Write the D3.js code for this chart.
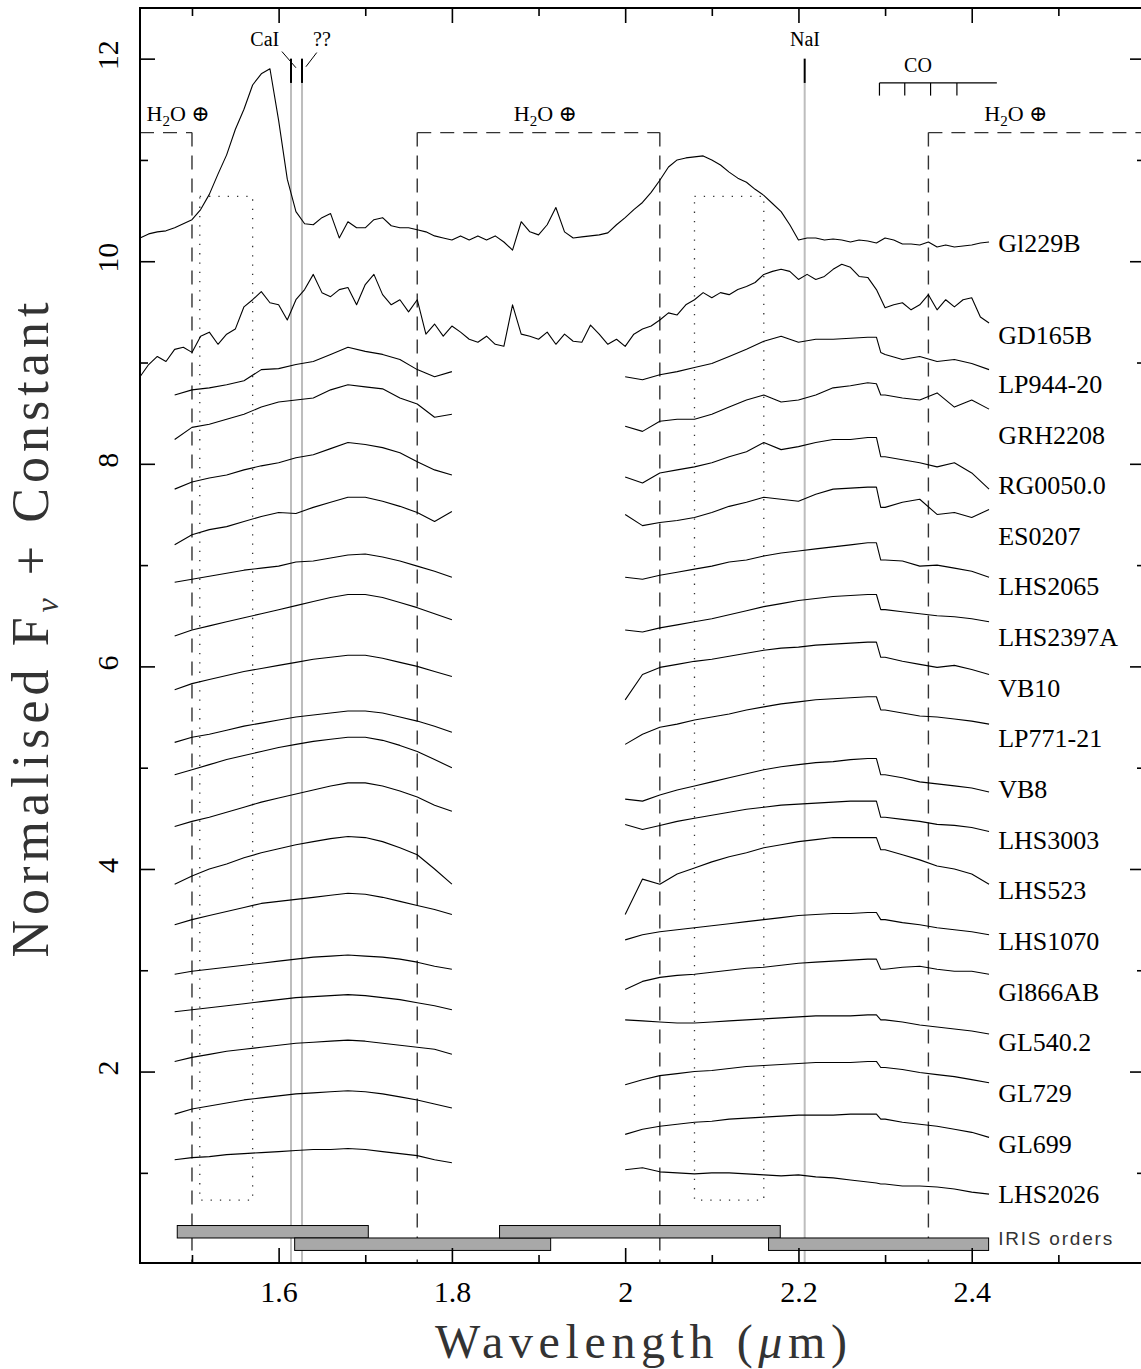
<!DOCTYPE html>
<html>
<head>
<meta charset="utf-8">
<script src="https://cdn.jsdelivr.net/npm/d3@7"></script>
<style>
  body { margin: 0; background: #fff; }
  svg { display: block; }
</style>
</head>
<body>
<div id="chart"></div>
<script>
// ---- data ----
const starNames = ['Gl229B', 'GD165B', 'LP944-20', 'GRH2208', 'RG0050.0', 'ES0207', 'LHS2065',
    'LHS2397A', 'VB10', 'LP771-21', 'VB8', 'LHS3003', 'LHS523', 'LHS1070', 'Gl866AB',
    'GL540.2', 'GL729', 'GL699', 'LHS2026'];
const labelLevels = [10.09, 9.18, 8.70, 8.20, 7.70, 7.20, 6.70, 6.20, 5.70, 5.20, 4.70,
    4.20, 3.70, 3.20, 2.70, 2.20, 1.70, 1.20, 0.70];

// continuous spectra (Gl229B, GD165B)
const fullWave = [1.44, 1.45, 1.46, 1.47, 1.48, 1.49, 1.50, 1.51, 1.52, 1.53, 1.54, 1.55, 1.56,
    1.57, 1.58, 1.59, 1.60, 1.61, 1.62, 1.63, 1.64, 1.65, 1.66, 1.67, 1.68, 1.69, 1.70, 1.71,
    1.72, 1.73, 1.74, 1.75, 1.76, 1.77, 1.78, 1.79, 1.80, 1.81, 1.82, 1.83, 1.84, 1.85, 1.86,
    1.87, 1.88, 1.89, 1.90, 1.91, 1.92, 1.93, 1.94, 1.95, 1.96, 1.97, 1.98, 1.99, 2.00, 2.01,
    2.02, 2.03, 2.04, 2.05, 2.06, 2.07, 2.08, 2.09, 2.10, 2.11, 2.12, 2.13, 2.14, 2.15, 2.16,
    2.17, 2.18, 2.19, 2.20, 2.21, 2.22, 2.23, 2.24, 2.25, 2.26, 2.27, 2.28, 2.29, 2.30, 2.31,
    2.32, 2.33, 2.34, 2.35, 2.36, 2.37, 2.38, 2.39, 2.40, 2.41, 2.42];
const gl229bFlux = [10.23, 10.27, 10.29, 10.30, 10.33, 10.37, 10.41, 10.51, 10.66, 10.86, 11.05,
    11.30, 11.50, 11.74, 11.85, 11.90, 11.39, 10.81, 10.49, 10.37, 10.36, 10.43, 10.47, 10.23,
    10.39, 10.33, 10.33, 10.41, 10.43, 10.35, 10.33, 10.33, 10.31, 10.29, 10.25, 10.23, 10.21,
    10.25, 10.21, 10.25, 10.21, 10.25, 10.19, 10.11, 10.39, 10.29, 10.26, 10.36, 10.53, 10.29,
    10.23, 10.24, 10.25, 10.26, 10.28, 10.36, 10.43, 10.51, 10.58, 10.68, 10.80, 10.93, 11.00,
    11.02, 11.03, 11.04, 11.00, 10.95, 10.88, 10.82, 10.78, 10.71, 10.65, 10.57, 10.49, 10.36,
    10.21, 10.23, 10.23, 10.21, 10.22, 10.21, 10.19, 10.21, 10.20, 10.18, 10.23, 10.21, 10.17,
    10.17, 10.16, 10.19, 10.14, 10.16, 10.14, 10.15, 10.16, 10.18, 10.19];
const gd165bFlux = [8.86, 8.98, 9.06, 9.01, 9.13, 9.15, 9.10, 9.26, 9.30, 9.18, 9.28, 9.33, 9.55,
    9.62, 9.70, 9.59, 9.57, 9.42, 9.62, 9.72, 9.87, 9.69, 9.65, 9.72, 9.74, 9.57, 9.77, 9.87,
    9.67, 9.57, 9.62, 9.50, 9.62, 9.28, 9.38, 9.26, 9.36, 9.30, 9.23, 9.20, 9.26, 9.18, 9.16,
    9.57, 9.28, 9.26, 9.23, 9.30, 9.18, 9.28, 9.21, 9.20, 9.37, 9.28, 9.18, 9.23, 9.16, 9.28,
    9.33, 9.36, 9.42, 9.49, 9.47, 9.57, 9.62, 9.69, 9.64, 9.69, 9.67, 9.72, 9.75, 9.79, 9.87,
    9.90, 9.92, 9.90, 9.82, 9.87, 9.82, 9.85, 9.92, 9.97, 9.94, 9.85, 9.84, 9.72, 9.54, 9.57,
    9.59, 9.52, 9.57, 9.67, 9.52, 9.62, 9.55, 9.62, 9.64, 9.45, 9.39];

// H and K windows for the other 17 objects (same order as starNames from LP944-20)
const hWave = [1.48, 1.50, 1.52, 1.54, 1.56, 1.58, 1.60, 1.62, 1.64, 1.66, 1.68, 1.70, 1.72,
    1.74, 1.76, 1.78, 1.80];
// extra samples either side of the first CO band head
const kWave = [2.00, 2.02, 2.04, 2.06, 2.08, 2.10, 2.12, 2.14, 2.16, 2.18, 2.20, 2.22, 2.24,
    2.26, 2.28, 2.29, 2.295, 2.30, 2.32, 2.34, 2.36, 2.38, 2.40, 2.42];
const hFlux = [
    [8.68, 8.73, 8.75, 8.78, 8.82, 8.93, 8.94, 8.98, 9.01, 9.08, 9.15, 9.11, 9.08, 9.03, 8.93, 8.86, 8.91],
    [8.24, 8.36, 8.39, 8.44, 8.49, 8.56, 8.61, 8.63, 8.65, 8.73, 8.78, 8.76, 8.74, 8.65, 8.59, 8.46, 8.49],
    [7.75, 7.82, 7.86, 7.89, 7.94, 7.98, 8.01, 8.06, 8.09, 8.15, 8.21, 8.19, 8.16, 8.11, 8.02, 7.94, 7.89],
    [7.20, 7.30, 7.35, 7.38, 7.43, 7.48, 7.52, 7.51, 7.57, 7.62, 7.67, 7.67, 7.63, 7.58, 7.52, 7.43, 7.53],
    [6.83, 6.86, 6.89, 6.92, 6.95, 6.97, 6.99, 7.03, 7.04, 7.07, 7.10, 7.11, 7.08, 7.04, 6.99, 6.94, 6.88],
    [6.30, 6.36, 6.40, 6.44, 6.48, 6.52, 6.56, 6.60, 6.64, 6.68, 6.71, 6.71, 6.68, 6.63, 6.58, 6.52, 6.46],
    [5.77, 5.83, 5.87, 5.91, 5.95, 5.98, 6.01, 6.04, 6.07, 6.09, 6.11, 6.11, 6.08, 6.04, 6.00, 5.95, 5.90],
    [5.25, 5.30, 5.33, 5.37, 5.41, 5.44, 5.47, 5.50, 5.52, 5.54, 5.56, 5.56, 5.54, 5.50, 5.46, 5.41, 5.35],
    [4.93, 4.98, 5.03, 5.08, 5.12, 5.16, 5.20, 5.23, 5.26, 5.28, 5.30, 5.30, 5.27, 5.22, 5.16, 5.08, 5.00],
    [4.42, 4.47, 4.51, 4.56, 4.61, 4.66, 4.70, 4.74, 4.78, 4.82, 4.85, 4.85, 4.82, 4.77, 4.71, 4.63, 4.57],
    [3.85, 3.93, 4.00, 4.05, 4.11, 4.16, 4.20, 4.24, 4.27, 4.30, 4.32, 4.31, 4.27, 4.21, 4.14, 4.00, 3.85],
    [3.45, 3.50, 3.54, 3.58, 3.62, 3.66, 3.68, 3.70, 3.72, 3.74, 3.76, 3.75, 3.72, 3.68, 3.64, 3.60, 3.55],
    [2.96, 2.99, 3.01, 3.03, 3.05, 3.07, 3.09, 3.11, 3.13, 3.14, 3.15, 3.14, 3.13, 3.11, 3.08, 3.04, 3.01],
    [2.59, 2.61, 2.63, 2.65, 2.67, 2.69, 2.71, 2.73, 2.74, 2.75, 2.76, 2.75, 2.73, 2.71, 2.68, 2.65, 2.61],
    [2.10, 2.14, 2.17, 2.20, 2.22, 2.24, 2.26, 2.28, 2.29, 2.30, 2.31, 2.30, 2.28, 2.26, 2.24, 2.22, 2.17],
    [1.58, 1.63, 1.66, 1.69, 1.72, 1.74, 1.76, 1.78, 1.79, 1.80, 1.81, 1.80, 1.78, 1.75, 1.72, 1.68, 1.64],
    [1.13, 1.15, 1.16, 1.18, 1.19, 1.20, 1.21, 1.22, 1.23, 1.23, 1.24, 1.23, 1.21, 1.19, 1.17, 1.13, 1.10]
];
const kFlux = [
    [8.86, 8.83, 8.88, 8.91, 8.95, 8.99, 9.06, 9.13, 9.21, 9.26, 9.20, 9.23, 9.23, 9.24, 9.25, 9.25, 9.10, 9.08, 9.03, 9.06, 9.01, 9.03, 8.99, 8.93],
    [8.37, 8.32, 8.42, 8.44, 8.44, 8.49, 8.56, 8.63, 8.68, 8.61, 8.63, 8.68, 8.75, 8.77, 8.80, 8.79, 8.68, 8.68, 8.65, 8.63, 8.70, 8.56, 8.63, 8.54],
    [7.87, 7.81, 7.91, 7.94, 7.97, 8.01, 8.07, 8.12, 8.21, 8.14, 8.17, 8.21, 8.24, 8.24, 8.26, 8.26, 8.07, 8.07, 8.04, 8.01, 7.97, 8.01, 7.91, 7.75],
    [7.50, 7.39, 7.42, 7.44, 7.47, 7.52, 7.58, 7.62, 7.67, 7.65, 7.63, 7.70, 7.75, 7.76, 7.77, 7.77, 7.57, 7.57, 7.62, 7.65, 7.50, 7.52, 7.47, 7.55],
    [6.88, 6.86, 6.90, 6.93, 6.96, 6.99, 7.03, 7.05, 7.09, 7.12, 7.14, 7.16, 7.18, 7.20, 7.22, 7.22, 7.05, 7.05, 7.04, 6.99, 7.00, 6.97, 6.94, 6.88],
    [6.36, 6.34, 6.38, 6.41, 6.44, 6.47, 6.51, 6.55, 6.59, 6.62, 6.65, 6.67, 6.69, 6.70, 6.71, 6.71, 6.56, 6.56, 6.54, 6.52, 6.50, 6.49, 6.47, 6.44],
    [5.67, 5.92, 5.99, 6.02, 6.05, 6.07, 6.10, 6.13, 6.16, 6.18, 6.19, 6.21, 6.22, 6.23, 6.24, 6.24, 6.09, 6.09, 6.05, 6.02, 5.99, 6.01, 5.97, 5.92],
    [5.23, 5.33, 5.40, 5.43, 5.47, 5.50, 5.53, 5.57, 5.60, 5.63, 5.65, 5.67, 5.68, 5.69, 5.70, 5.70, 5.57, 5.57, 5.54, 5.51, 5.50, 5.48, 5.46, 5.43],
    [4.69, 4.67, 4.73, 4.78, 4.82, 4.86, 4.90, 4.94, 4.98, 5.01, 5.03, 5.05, 5.06, 5.08, 5.09, 5.09, 4.93, 4.93, 4.90, 4.86, 4.84, 4.82, 4.80, 4.76],
    [4.44, 4.39, 4.43, 4.47, 4.50, 4.53, 4.56, 4.59, 4.61, 4.63, 4.64, 4.65, 4.66, 4.67, 4.67, 4.67, 4.51, 4.51, 4.49, 4.47, 4.44, 4.43, 4.41, 4.37],
    [3.55, 3.90, 3.85, 3.95, 4.01, 4.07, 4.12, 4.16, 4.21, 4.24, 4.27, 4.29, 4.31, 4.31, 4.31, 4.31, 4.19, 4.19, 4.14, 4.09, 4.03, 4.00, 3.95, 3.85],
    [3.30, 3.35, 3.38, 3.40, 3.42, 3.44, 3.46, 3.48, 3.50, 3.52, 3.54, 3.55, 3.56, 3.56, 3.57, 3.57, 3.50, 3.50, 3.47, 3.45, 3.42, 3.40, 3.38, 3.35],
    [2.81, 2.89, 2.93, 2.95, 2.96, 2.98, 3.00, 3.02, 3.03, 3.05, 3.07, 3.08, 3.09, 3.10, 3.11, 3.11, 3.01, 3.01, 3.03, 3.04, 3.01, 2.99, 2.99, 2.96],
    [2.51, 2.50, 2.49, 2.48, 2.48, 2.49, 2.50, 2.51, 2.52, 2.53, 2.54, 2.55, 2.55, 2.55, 2.56, 2.56, 2.51, 2.51, 2.49, 2.46, 2.44, 2.42, 2.40, 2.37],
    [1.87, 1.92, 1.96, 1.98, 2.00, 2.01, 2.03, 2.05, 2.06, 2.07, 2.08, 2.09, 2.09, 2.09, 2.10, 2.10, 2.04, 2.04, 2.02, 1.99, 1.97, 1.95, 1.92, 1.89],
    [1.38, 1.43, 1.46, 1.48, 1.50, 1.51, 1.53, 1.54, 1.55, 1.56, 1.57, 1.57, 1.57, 1.58, 1.58, 1.58, 1.53, 1.53, 1.50, 1.48, 1.46, 1.43, 1.40, 1.35],
    [1.03, 1.05, 1.01, 1.00, 0.99, 1.00, 1.00, 0.99, 0.98, 0.97, 0.98, 0.96, 0.95, 0.93, 0.91, 0.90, 0.89, 0.89, 0.87, 0.87, 0.86, 0.84, 0.81, 0.79]
];

// annotations
const irisOrders = [[1.483, 1.7035, 0], [1.6185, 1.914, 1], [1.855, 2.179, 0], [2.1655, 2.4195, 1]];
const irisRowTops = [0.48, 0.357];
const h2oLevel = 11.27;
const h2oBands = [[1.44, 1.50], [1.76, 2.04], [2.35, 2.60]];
const h2oEdges = [1.50, 1.76, 2.04, 2.35];
const h2oLabelX = [1.484, 1.908, 2.451];
const fluxWindows = [[1.509, 1.570], [2.080, 2.160]];
const windowLevels = [0.73, 10.64];
const featureLines = [1.6143, 1.627, 2.2072];
const featureNames = ['CaI', '??', 'NaI'];
const featureLabelX = [1.584, 1.650, 2.2075];
const coHeads = [2.2935, 2.3227, 2.3525, 2.3829];
const coEnd = 2.429;

const xMajor = [1.6, 1.8, 2.0, 2.2, 2.4];
const xMinor = [1.5, 1.7, 1.9, 2.1, 2.3, 2.5];
const yMajor = [2, 4, 6, 8, 10, 12];
const yMinor = [1, 3, 5, 7, 9, 11];

// ---- dimensions ----
const dimensions = {
    width: 1141,
    height: 1369,
    margin: { top: 8, left: 140 },
    plotRight: 1145,
    plotBottom: 1263
};
const serif = '"Liberation Serif", "DejaVu Serif", serif';

const svg = d3.select('#chart')
    .append('svg')
    .attr('width', dimensions.width)
    .attr('height', dimensions.height)
    .style('font-family', serif);

// ---- scales ----
const xScale = d3.scaleLinear()
    .domain([1.44, 2.6])
    .range([dimensions.margin.left, dimensions.plotRight]);
const yScale = d3.scaleLinear()
    .domain([0.11, 12.5])
    .range([dimensions.plotBottom, dimensions.margin.top]);

const plot = svg.append('g');

// telluric H2O regions
plot.selectAll('.h2o-band')
    .data(h2oBands)
    .join('line')
    .attr('x1', d => xScale(d[0]))
    .attr('x2', d => xScale(d[1]))
    .attr('y1', yScale(h2oLevel))
    .attr('y2', yScale(h2oLevel))
    .attr('stroke', '#333')
    .attr('stroke-width', 1.4)
    .attr('stroke-dasharray', '14,9');

plot.selectAll('.h2o-edge')
    .data(h2oEdges)
    .join('line')
    .attr('x1', d => xScale(d))
    .attr('x2', d => xScale(d))
    .attr('y1', yScale(h2oLevel))
    .attr('y2', yScale(0.11))
    .attr('stroke', '#333')
    .attr('stroke-width', 1.4)
    .attr('stroke-dasharray', '14,9');

// dotted flux windows
plot.selectAll('.window')
    .data(fluxWindows)
    .join('rect')
    .attr('x', d => xScale(d[0]))
    .attr('width', d => xScale(d[1]) - xScale(d[0]))
    .attr('y', yScale(windowLevels[1]))
    .attr('height', yScale(windowLevels[0]) - yScale(windowLevels[1]))
    .attr('fill', 'none')
    .attr('stroke', '#333')
    .attr('stroke-width', 1.3)
    .attr('stroke-dasharray', '1.3,8');

// atomic feature lines
plot.selectAll('.feature-grey')
    .data(featureLines)
    .join('line')
    .attr('x1', d => xScale(d))
    .attr('x2', d => xScale(d))
    .attr('y1', yScale(11.76))
    .attr('y2', yScale(0.11))
    .attr('stroke', '#bdbdbd')
    .attr('stroke-width', 2);

plot.selectAll('.feature-mark')
    .data(featureLines)
    .join('line')
    .attr('x1', d => xScale(d))
    .attr('x2', d => xScale(d))
    .attr('y1', yScale(12.0))
    .attr('y2', yScale(11.76))
    .attr('stroke', '#000')
    .attr('stroke-width', 2);

// leaders for CaI and ??
const leaders = [[[1.6038, 12.07], [1.6200, 11.91]], [[1.6440, 12.06], [1.6315, 11.92]]];
plot.selectAll('.leader')
    .data(leaders)
    .join('line')
    .attr('x1', d => xScale(d[0][0]))
    .attr('y1', d => yScale(d[0][1]))
    .attr('x2', d => xScale(d[1][0]))
    .attr('y2', d => yScale(d[1][1]))
    .attr('stroke', '#000')
    .attr('stroke-width', 1);

plot.selectAll('.feature-label')
    .data(featureNames)
    .join('text')
    .attr('x', (d, i) => xScale(featureLabelX[i]))
    .attr('y', yScale(12.12))
    .attr('text-anchor', 'middle')
    .attr('font-size', 20)
    .text(d => d);

// CO band heads
plot.append('line')
    .attr('x1', xScale(coHeads[0]))
    .attr('x2', xScale(coEnd))
    .attr('y1', yScale(11.76))
    .attr('y2', yScale(11.76))
    .attr('stroke', '#000')
    .attr('stroke-width', 1.2);
plot.selectAll('.co-head')
    .data(coHeads)
    .join('line')
    .attr('x1', d => xScale(d))
    .attr('x2', d => xScale(d))
    .attr('y1', yScale(11.76))
    .attr('y2', yScale(11.635))
    .attr('stroke', '#000')
    .attr('stroke-width', 1.2);
plot.append('text')
    .attr('x', xScale(2.338))
    .attr('y', yScale(11.87))
    .attr('text-anchor', 'middle')
    .attr('font-size', 20)
    .text('CO');

// H2O labels
const h2oText = plot.selectAll('.h2o-label')
    .data(h2oLabelX)
    .join('text')
    .attr('x', d => xScale(d))
    .attr('y', yScale(11.38))
    .attr('text-anchor', 'middle')
    .attr('font-size', 22);
h2oText.append('tspan').text('H');
h2oText.append('tspan').attr('font-size', 15).attr('dy', 5).text('2');
h2oText.append('tspan').attr('dy', -5).text('O \u2295');

// IRIS orders
plot.selectAll('.iris')
    .data(irisOrders)
    .join('rect')
    .attr('x', d => xScale(d[0]))
    .attr('width', d => xScale(d[1]) - xScale(d[0]))
    .attr('y', d => yScale(irisRowTops[d[2]]))
    .attr('height', yScale(0.11) - yScale(0.233))
    .attr('fill', '#a8a8a8')
    .attr('stroke', '#000')
    .attr('stroke-width', 1);
plot.append('text')
    .attr('x', xScale(2.4305))
    .attr('y', yScale(0.29))
    .attr('font-family', '"Liberation Sans", Arial, sans-serif')
    .attr('font-size', 19)
    .attr('fill', '#333')
    .attr('textLength', 114)
    .attr('lengthAdjust', 'spacing')
    .text('IRIS orders');

// ---- spectra ----
const line = d3.line()
    .x(d => xScale(d[0]))
    .y(d => yScale(d[1]));

const segments = [d3.zip(fullWave, gl229bFlux), d3.zip(fullWave, gd165bFlux)];
hFlux.forEach((flux, i) => {
    segments.push(d3.zip(hWave, flux));
    segments.push(d3.zip(kWave, kFlux[i]));
});

plot.selectAll('.spectrum')
    .data(segments)
    .join('path')
    .attr('d', line)
    .attr('fill', 'none')
    .attr('stroke', '#000')
    .attr('stroke-width', 1.1)
    .attr('stroke-linejoin', 'round');

plot.selectAll('.star-label')
    .data(starNames)
    .join('text')
    .attr('x', xScale(2.4305))
    .attr('y', (d, i) => yScale(labelLevels[i]))
    .attr('font-size', 26)
    .text(d => d);

// ---- axes ----
const styleAxis = (g) => {
    g.select('.domain').remove();
    g.selectAll('line').attr('stroke', '#000').attr('stroke-width', 1.6);
    g.selectAll('text').attr('font-family', serif).attr('font-size', 30).attr('fill', '#000');
};

svg.append('g')
    .attr('transform', `translate(0, ${dimensions.plotBottom})`)
    .call(d3.axisBottom(xScale).tickValues(xMajor).tickSizeInner(-15).tickSizeOuter(0)
        .tickPadding(18).tickFormat(d3.format('')))
    .call(styleAxis);
svg.append('g')
    .attr('transform', `translate(0, ${dimensions.plotBottom})`)
    .call(d3.axisBottom(xScale).tickValues(xMinor).tickSizeInner(-8).tickSizeOuter(0).tickFormat(''))
    .call(styleAxis);
svg.append('g')
    .attr('transform', `translate(0, ${dimensions.margin.top})`)
    .call(d3.axisTop(xScale).tickValues(xMajor).tickSizeInner(-15).tickSizeOuter(0).tickFormat(''))
    .call(styleAxis);
svg.append('g')
    .attr('transform', `translate(0, ${dimensions.margin.top})`)
    .call(d3.axisTop(xScale).tickValues(xMinor).tickSizeInner(-8).tickSizeOuter(0).tickFormat(''))
    .call(styleAxis);

const yAxisGroup = svg.append('g')
    .attr('transform', `translate(${dimensions.margin.left}, 0)`)
    .call(d3.axisLeft(yScale).tickValues(yMajor).tickSizeInner(-15).tickSizeOuter(0))
    .call(styleAxis);
yAxisGroup.selectAll('text')
    .attr('x', null)
    .attr('dy', null)
    .attr('text-anchor', 'middle')
    .attr('transform', 'translate(-22, -4) rotate(-90)');
svg.append('g')
    .attr('transform', `translate(${dimensions.margin.left}, 0)`)
    .call(d3.axisLeft(yScale).tickValues(yMinor).tickSizeInner(-8).tickSizeOuter(0).tickFormat(''))
    .call(styleAxis);
svg.append('g')
    .attr('transform', `translate(${dimensions.plotRight}, 0)`)
    .call(d3.axisRight(yScale).tickValues(yMajor).tickSizeInner(-15).tickSizeOuter(0).tickFormat(''))
    .call(styleAxis);
svg.append('g')
    .attr('transform', `translate(${dimensions.plotRight}, 0)`)
    .call(d3.axisRight(yScale).tickValues(yMinor).tickSizeInner(-8).tickSizeOuter(0).tickFormat(''))
    .call(styleAxis);

// frame
svg.append('rect')
    .attr('x', dimensions.margin.left)
    .attr('y', dimensions.margin.top)
    .attr('width', dimensions.plotRight - dimensions.margin.left)
    .attr('height', dimensions.plotBottom - dimensions.margin.top)
    .attr('fill', 'none')
    .attr('stroke', '#000')
    .attr('stroke-width', 2);

// axis titles
svg.append('text')
    .attr('x', 641)
    .attr('y', 1358)
    .attr('text-anchor', 'middle')
    .attr('font-size', 48)
    .attr('fill', '#333')
    .attr('textLength', 412)
    .attr('lengthAdjust', 'spacing')
    .html('Wavelength (<tspan font-style="italic">\u03bc</tspan>m)');

const yTitle = svg.append('text')
    .attr('transform', 'translate(48, 630) rotate(-90)')
    .attr('text-anchor', 'middle')
    .attr('font-size', 52)
    .attr('fill', '#333')
    .attr('textLength', 655)
    .attr('lengthAdjust', 'spacing');
yTitle.append('tspan').text('Normalised F');
yTitle.append('tspan').attr('font-size', 32).attr('font-style', 'italic').attr('dy', 10).text('\u03bd');
yTitle.append('tspan').attr('dy', -10).text(' + Constant');
</script>
</body>
</html>
